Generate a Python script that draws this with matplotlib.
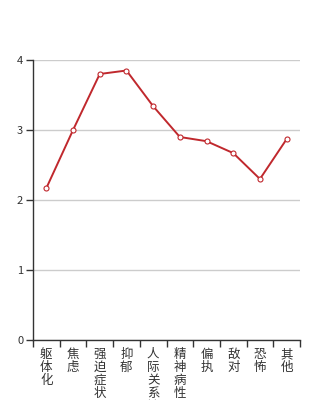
import matplotlib
matplotlib.use("Agg")
import matplotlib.pyplot as plt

categories = ["躯体化", "焦虑", "强迫症状", "抑郁", "人际关系敏感", "精神病性", "偏执", "敌对", "恐怖", "其他"]
values = [2.17, 3.0, 3.80, 3.85, 3.34, 2.90, 2.84, 2.67, 2.30, 2.87]
yticks = [0, 1, 2, 3, 4]

plt.rcParams['font.family'] = ['Noto Sans CJK SC', 'DejaVu Sans']

W, H = 334, 400
fig = plt.figure(figsize=(W/100, H/100), dpi=100)
ax = fig.add_axes([33/W, 60/H, 267/W, 280/H])

n = len(categories)
xs = [i + 0.5 for i in range(n)]
ax.plot(xs, values, color='#c0282d', lw=1.4, marker='o', ms=3.6,
        mfc='white', mec='#c0282d', mew=0.8, zorder=3)

ax.set_xlim(0, n)
ax.set_ylim(0, 4)
ax.set_yticks(yticks)
ax.set_yticklabels([str(v) for v in yticks])
ax.yaxis.grid(True, color='#cccccc', lw=1)
ax.set_axisbelow(True)

ax.set_xticks(range(n + 1))
ax.set_xticklabels([])
ax.tick_params(axis='both', direction='out', length=5, width=1, color='#333333',
               labelsize=8, labelcolor='#333333', pad=2)
for s in ['top', 'right']:
    ax.spines[s].set_visible(False)
for s in ['left', 'bottom']:
    ax.spines[s].set_color('#333333')
    ax.spines[s].set_linewidth(1)

for x, lab in zip(xs, categories):
    ax.annotate("\n".join(lab), xy=(x, 0), xycoords=('data', 'axes fraction'),
                xytext=(0, -8), textcoords='offset pixels',
                ha='center', va='top', fontsize=9, color='#333333',
                linespacing=1.0, annotation_clip=False)

fig.savefig("out.png", dpi=100)
